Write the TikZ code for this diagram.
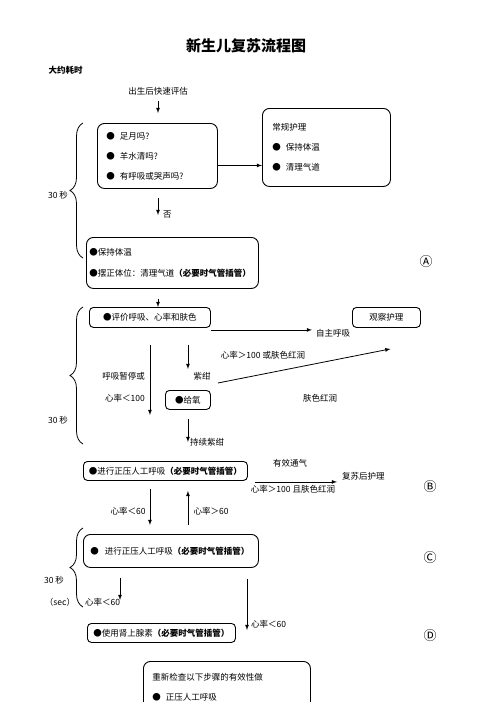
\documentclass[tikz,border=0pt]{standalone}
\usepackage{fontspec}
\setmainfont{Noto Sans CJK SC}
\usepackage{tikz}
\usetikzlibrary{positioning,decorations.pathreplacing}

\begin{document}
\begin{tikzpicture}[x=1pt, y=-1pt,
			box/.style={draw, rounded corners=7pt, line width=0.9pt, font=\fontsize{8.5}{20}\selectfont, align=left, inner ysep=0pt, anchor=north west},
			smallbox/.style={draw, rounded corners=4pt, line width=0.9pt, font=\fontsize{8.5}{10}\selectfont, inner sep=0pt, anchor=north west},
			txt/.style={font=\fontsize{8.5}{10}\selectfont, inner sep=0pt},
			circled/.style={font=\fontsize{13}{15}\selectfont, inner sep=0pt},
			arrow/.style={line width=0.8pt, -latex},
			timebrace/.style={decorate, decoration={brace, amplitude=13pt}, line width=0.8pt}
		]
		\useasboundingbox (0,0) rectangle (496,702);
		\clip (0,0) rectangle (496,702);

		\node[font=\bfseries\fontsize{15}{18}\selectfont] (title) at (246,46) {新生儿复苏流程图};
		\node[font=\bfseries\fontsize{8.5}{10}\selectfont, anchor=west] (timehead) at (45,70) {大约耗时};
		\node[txt] (start) at (158,91) {出生后快速评估};

		\node[box, text width=102pt, inner xsep=9pt, minimum height=65pt] (check) at (97,123) {●\hspace{5pt}足月吗?\\●\hspace{5pt}羊水清吗?\\●\hspace{5pt}有呼吸或哭声吗?};
		\node[box, text width=108pt, inner xsep=10pt, minimum height=78pt] (care) at (262,108) {常规护理\\●\hspace{5pt}保持体温\\●\hspace{5pt}清理气道};
		\node[txt, anchor=west] (no) at (163,215) {否};
		\node[box, text width=166pt, inner xsep=3pt, minimum height=51pt, font=\fontsize{8.5}{21}\selectfont] (warm) at (86,237) {●保持体温\\●摆正体位：清理气道\textbf{（必要时气管插管）}};
		\node[circled] (markA) at (426,262) {Ⓐ};

		\node[smallbox, minimum width=121pt, minimum height=20pt] (eval) at (89,307) {●评价呼吸、心率和肤色};
		\node[smallbox, minimum width=68pt, minimum height=20pt] (observe) at (352,307) {观察护理};
		\node[txt, anchor=west] (spont) at (316,333) {自主呼吸};
		\node[txt] (hr100a) at (263,355) {心率＞100 或肤色红润};
		\node[txt, align=right, anchor=east, font=\fontsize{8.5}{22}\selectfont] (apnea) at (145,387) {呼吸暂停或\\心率＜100};
		\node[txt] (cyan) at (202,376) {紫绀};
		\node[smallbox, minimum width=45pt, minimum height=19pt] (oxy) at (165,390) {●给氧};
		\node[txt] (pink) at (320,398) {肤色红润};
		\node[txt, anchor=west] (blue) at (190,442) {持续紫绀};

		\node[smallbox, minimum width=164pt, minimum height=19pt] (ppv) at (83,461) {●进行正压人工呼吸\textbf{（必要时气管插管）}};
		\node[txt] (effvent) at (290,463) {有效通气};
		\node[txt, anchor=west] (post) at (342,476) {复苏后护理};
		\node[txt] (hr100b) at (293,489) {心率＞100 且肤色红润};
		\node[circled] (markB) at (430,487) {Ⓑ};
		\node[txt] (lt60a) at (128,511) {心率＜60};
		\node[txt] (gt60) at (211,511) {心率＞60};

		\node[box, text width=161pt, inner xsep=7pt, minimum height=33pt] (cpr) at (83,534) {●\hspace{6pt}进行正压人工呼吸\textbf{（必要时气管插管）}};
		\node[circled] (markC) at (430,558) {Ⓒ};
		\node[txt, anchor=west] (lt60b) at (85,602) {心率＜60};
		\node[txt, anchor=west] (lt60c) at (251,624) {心率＜60};
		\coordinate (hr60tip) at (120,600);
		\coordinate (epitip) at (247,630);
		\node[smallbox, minimum width=148pt, minimum height=19pt] (epi) at (87,623) {●使用肾上腺素\textbf{（必要时气管插管）}};
		\node[circled] (markD) at (430,636) {Ⓓ};
		\node[box, text width=149pt, inner xsep=9pt, inner ysep=12pt] (recheck) at (143,661) {重新检查以下步骤的有效性做\\●\hspace{5pt}正压人工呼吸};

		\node[txt] (t1) at (58,195) {30 秒};
		\node[txt] (t2) at (58,420) {30 秒};
		\node[txt] (t3) at (54,580) {30 秒};
		\node[txt] (sec) at (60,602) {（sec）};
		\draw[timebrace] (83,258) -- (83,123);
		\draw[timebrace] (83,444) -- (83,307);
		\draw[timebrace] (83,607) -- (83,528);

		\draw[arrow, shorten <=6pt, shorten >=10pt] (start) -- (start |- check.north);
		\draw[arrow] ([yshift=-9.5pt]check.east) -- ([yshift=-9.5pt]check.east -| care.west);
		\draw[arrow, shorten <=9pt, shorten >=22pt] (start |- check.south) -- (start |- warm.north);
		\draw[arrow, shorten <=10pt] (start |- warm.south) -- (start |- eval.north);
		\draw[arrow, shorten >=4pt] ([yshift=-2pt]eval.south east) -- ([yshift=-2pt]eval.south east -| spont.west);
		\draw[arrow, shorten <=17pt, shorten >=46pt] (eval.south) -- (eval.south |- ppv.north);
		\draw[arrow, shorten <=17pt, shorten >=21pt] (oxy.north |- eval.south) -- (oxy.north);
		\draw[arrow] ([shift={(7pt,7pt)}]oxy.north east) -- ([shift={(4pt,-21pt)}]observe.south);
		\draw[arrow, shorten <=9pt] (oxy.south) -- (oxy.south |- blue.center);
		\draw[arrow, shorten >=5pt] ([xshift=7pt,yshift=-1pt]ppv.south east) -- ([yshift=-1pt]ppv.south east -| post.west);
		\draw[arrow, shorten <=8pt, shorten >=9pt] (eval.south |- ppv.south) -- (eval.south |- cpr.north);
		\draw[arrow, shorten <=9pt, shorten >=10pt] (oxy.south |- cpr.north) -- (oxy.south |- ppv.south);
		\draw[arrow, shorten <=10pt] (cpr.south -| hr60tip) -- (hr60tip);
		\draw[arrow, shorten <=11pt] (cpr.south -| epitip) -- (epitip);
		\end{tikzpicture}
\end{document}
